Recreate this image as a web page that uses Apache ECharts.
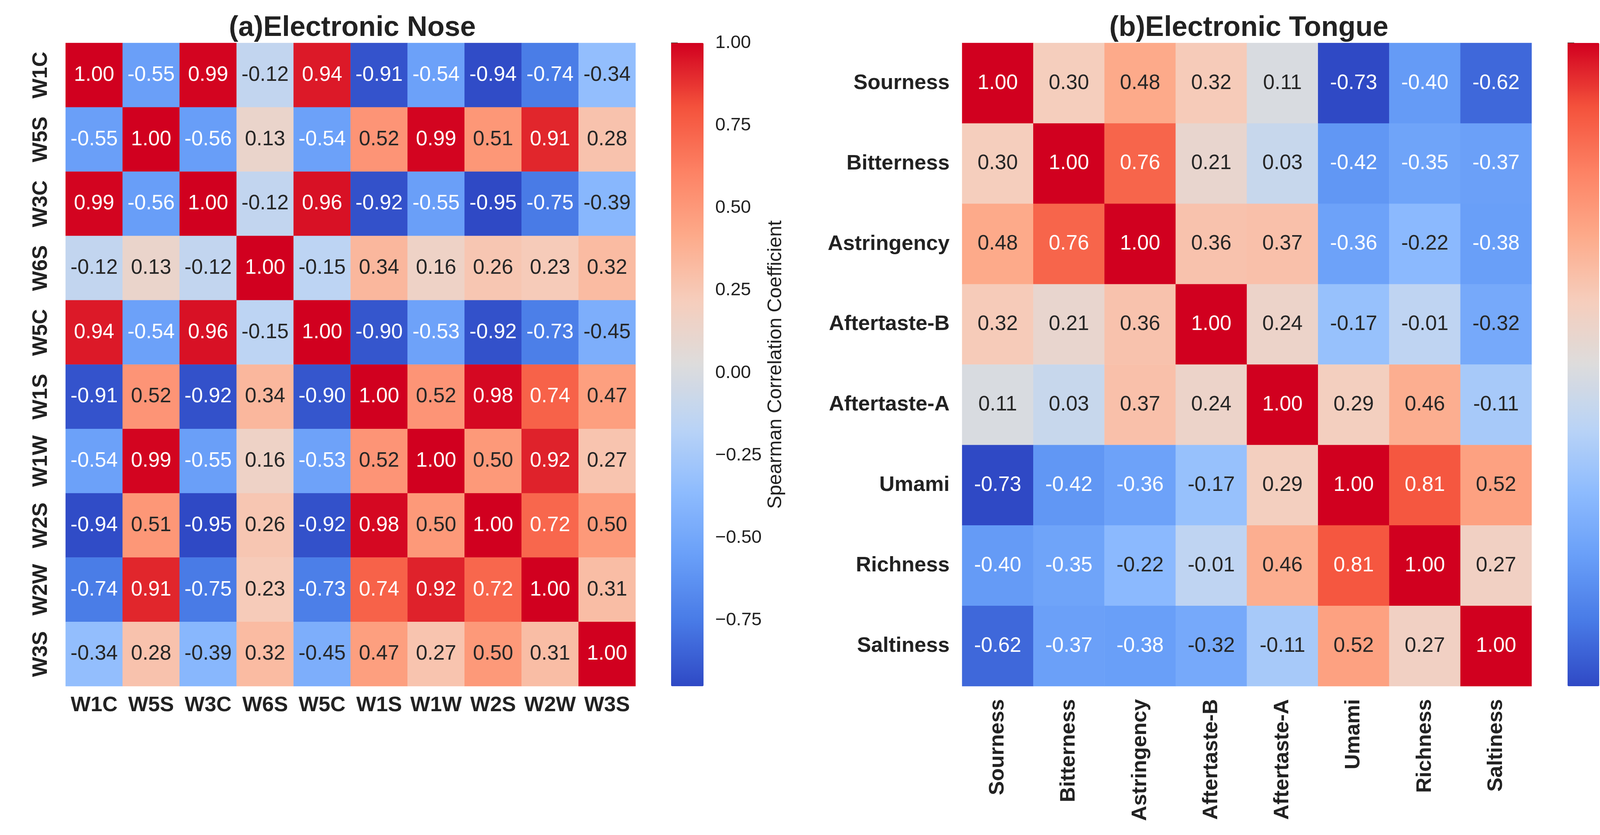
<!DOCTYPE html>
<html>
<head>
<meta charset="utf-8">
<script src="https://cdn.jsdelivr.net/npm/echarts@6/dist/echarts.min.js"></script>
<style>html,body{margin:0;padding:0;background:#fff;}#c{width:4332px;height:2138px;}</style>
</head>
<body>
<div id="c"></div>
<script>
const noseLabels = ['W1C','W5S','W3C','W6S','W5C','W1S','W1W','W2S','W2W','W3S'];
const noseValues = [
  [ 1.00,-0.55, 0.99,-0.12, 0.94,-0.91,-0.54,-0.94,-0.74,-0.34],
  [-0.55, 1.00,-0.56, 0.13,-0.54, 0.52, 0.99, 0.51, 0.91, 0.28],
  [ 0.99,-0.56, 1.00,-0.12, 0.96,-0.92,-0.55,-0.95,-0.75,-0.39],
  [-0.12, 0.13,-0.12, 1.00,-0.15, 0.34, 0.16, 0.26, 0.23, 0.32],
  [ 0.94,-0.54, 0.96,-0.15, 1.00,-0.90,-0.53,-0.92,-0.73,-0.45],
  [-0.91, 0.52,-0.92, 0.34,-0.90, 1.00, 0.52, 0.98, 0.74, 0.47],
  [-0.54, 0.99,-0.55, 0.16,-0.53, 0.52, 1.00, 0.50, 0.92, 0.27],
  [-0.94, 0.51,-0.95, 0.26,-0.92, 0.98, 0.50, 1.00, 0.72, 0.50],
  [-0.74, 0.91,-0.75, 0.23,-0.73, 0.74, 0.92, 0.72, 1.00, 0.31],
  [-0.34, 0.28,-0.39, 0.32,-0.45, 0.47, 0.27, 0.50, 0.31, 1.00]
];
const tongueLabels = ['Sourness','Bitterness','Astringency','Aftertaste-B','Aftertaste-A','Umami','Richness','Saltiness'];
const tongueValues = [
  [ 1.00, 0.30, 0.48, 0.32, 0.11,-0.73,-0.40,-0.62],
  [ 0.30, 1.00, 0.76, 0.21, 0.03,-0.42,-0.35,-0.37],
  [ 0.48, 0.76, 1.00, 0.36, 0.37,-0.36,-0.22,-0.38],
  [ 0.32, 0.21, 0.36, 1.00, 0.24,-0.17,-0.01,-0.32],
  [ 0.11, 0.03, 0.37, 0.24, 1.00, 0.29, 0.46,-0.11],
  [-0.73,-0.42,-0.36,-0.17, 0.29, 1.00, 0.81, 0.52],
  [-0.40,-0.35,-0.22,-0.01, 0.46, 0.81, 1.00, 0.27],
  [-0.62,-0.37,-0.38,-0.32,-0.11, 0.52, 0.27, 1.00]
];
const noseRange = [-0.95, 1.00];
const tongueRange = [-0.73, 1.00];
const noseTicks = [-0.75,-0.50,-0.25,0.00,0.25,0.50,0.75,1.00];
const tongueTicks = [-0.6,-0.4,-0.2,0.0,0.2,0.4,0.6,0.8,1.0];
const titles = ['(a)Electronic Nose','(b)Electronic Tongue'];
const cbarName = 'Spearman Correlation Coefficient';

const FONT = '"Liberation Sans", Arial, Helvetica, sans-serif';
const TXT = '#222222';
const cmap = ['#2f49c5','#487ae6','#689ef8','#8dbbfe','#b9d3f6','#dddcdc','#f6cdbc','#fdaa8a','#fd8264','#f4523c','#d1001f'];

function labelColor(v, r) {
  const t = (v - r[0]) / (r[1] - r[0]);
  return (t < 0.23 || t > 0.8) ? '#ffffff' : '#262626';
}
function buildData(mat, r) {
  const out = [];
  mat.forEach((row, yi) => row.forEach((v, xi) => {
    out.push({ value: [xi, yi, v], label: { color: labelColor(v, r) } });
  }));
  return out;
}
const minus = s => s.replace('-', '\u2212');

const G = {
  nose:   { left: 168,  top: 110, width: 1459, height: 1647 },
  tongue: { left: 2463, top: 110, width: 1458, height: 1647 },
  cbA:    { left: 1718, top: 110, width: 83,   height: 1647 },
  cbB:    { left: 4013, top: 110, width: 81,   height: 1647 }
};

const chart = echarts.init(document.getElementById('c'), null, { renderer: 'canvas' });

const cellLabel = { show: true, fontSize: 53, fontFamily: FONT, formatter: p => p.value[2].toFixed(2) };
const catAxisCommon = { type: 'category', axisLine: { show: false }, axisTick: { show: false }, splitLine: { show: false } };
const boldLbl = { fontSize: 54, fontWeight: 'bold', fontFamily: FONT, color: TXT };
const cbAxis = (gi, r, ticks, dec, gap) => ({
  type: 'value', gridIndex: gi, position: 'right', min: r[0], max: r[1],
  axisLine: { show: false }, splitLine: { show: false },
  axisTick: { show: true, length: 17, lineStyle: { color: TXT, width: 3 }, customValues: ticks },
  axisLabel: { show: true, margin: 30, fontSize: 47, fontFamily: FONT, color: TXT, customValues: ticks,
               formatter: v => minus(Number(v).toFixed(dec)) },
  name: cbarName, nameLocation: 'middle', nameRotate: 90, nameGap: gap,
  nameTextStyle: { fontSize: 50, fontFamily: FONT, color: TXT }
});

chart.setOption({
  backgroundColor: '#ffffff',
  animation: false,
  title: [
    { text: titles[0], left: 897, top: 31, textAlign: 'center', textStyle: { fontSize: 72, fontWeight: 'bold', fontFamily: FONT, color: TXT } },
    { text: titles[1], left: 3192, top: 31, textAlign: 'center', textStyle: { fontSize: 72, fontWeight: 'bold', fontFamily: FONT, color: TXT } }
  ],
  grid: [
    Object.assign({ containLabel: false }, G.nose),
    Object.assign({ containLabel: false }, G.tongue),
    Object.assign({ containLabel: false }, G.cbA),
    Object.assign({ containLabel: false }, G.cbB)
  ],
  xAxis: [
    Object.assign({}, catAxisCommon, { gridIndex: 0, data: noseLabels, axisLabel: Object.assign({ margin: 22, interval: 0 }, boldLbl) }),
    Object.assign({}, catAxisCommon, { gridIndex: 1, data: tongueLabels, axisLabel: Object.assign({ margin: 33, interval: 0, rotate: 90 }, boldLbl) }),
    { type: 'value', gridIndex: 2, show: false },
    { type: 'value', gridIndex: 3, show: false }
  ],
  yAxis: [
    Object.assign({}, catAxisCommon, { gridIndex: 0, data: noseLabels, inverse: true, axisLabel: Object.assign({ margin: 36, interval: 0, rotate: 90 }, boldLbl) }),
    Object.assign({}, catAxisCommon, { gridIndex: 1, data: tongueLabels, inverse: true, axisLabel: Object.assign({ margin: 32, interval: 0 }, boldLbl) }),
    cbAxis(2, noseRange, noseTicks, 2, 160),
    cbAxis(3, tongueRange, tongueTicks, 1, 137)
  ],
  visualMap: [
    { type: 'continuous', seriesIndex: 0, min: noseRange[0], max: noseRange[1], calculable: false, orient: 'vertical',
      left: G.cbA.left, top: G.cbA.top, itemWidth: G.cbA.width, itemHeight: G.cbA.height, padding: 0, text: null, showLabel: false,
      inRange: { color: cmap } },
    { type: 'continuous', seriesIndex: 1, min: tongueRange[0], max: tongueRange[1], calculable: false, orient: 'vertical',
      left: G.cbB.left, top: G.cbB.top, itemWidth: G.cbB.width, itemHeight: G.cbB.height, padding: 0, text: null, showLabel: false,
      inRange: { color: cmap } }
  ],
  series: [
    { type: 'heatmap', xAxisIndex: 0, yAxisIndex: 0, data: buildData(noseValues, noseRange), label: cellLabel, itemStyle: { borderWidth: 0 }, emphasis: { disabled: true } },
    { type: 'heatmap', xAxisIndex: 1, yAxisIndex: 1, data: buildData(tongueValues, tongueRange), label: cellLabel, itemStyle: { borderWidth: 0 }, emphasis: { disabled: true } }
  ]
});
</script>
</body>
</html>
